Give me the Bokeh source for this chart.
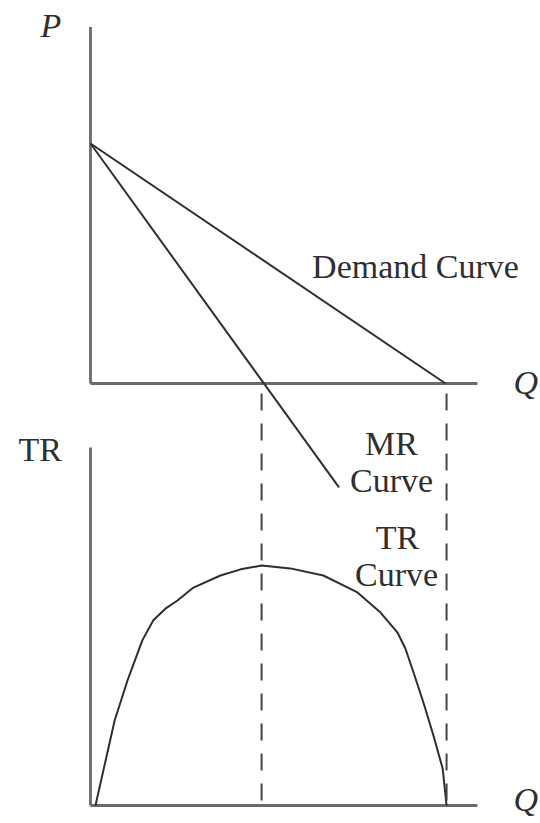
from bokeh.plotting import figure
from bokeh.models import Range1d, Label
from bokeh.embed import file_html
from bokeh.resources import INLINE

# ---------------- data ----------------
# Price panel (P against Q)
p_axis_max = 14.85
q_axis_max = 10.9
demand_q = [0.0, 10.0]
demand_p = [10.0, 0.0]
mr_q = [0.0, 7.0]
mr_p = [10.0, -4.33]

# Total revenue panel (TR against Q)
tr_axis_max = 37.3
tr_q = [0.14, 0.68, 1.04, 1.46, 1.77, 2.11, 2.45, 2.90, 3.66, 4.23, 4.82,
        5.63, 6.56, 7.52, 8.17, 8.65, 8.87, 9.10, 9.38, 9.66, 9.92, 10.03]
tr_v = [0.0, 8.85, 13.0, 17.2, 19.3, 20.5, 21.35, 22.7, 23.96, 24.6, 25.0,
        24.7, 23.96, 22.2, 20.1, 18.0, 16.35, 13.85, 10.7, 7.3, 3.85, 0.0]

# Quantities marked by the dashed guide lines
q_mr_zero = 4.82
q_demand_zero = 10.03

# ---------------- layout ----------------
W, H = 540, 821
q_zero_px, q_unit_px = 90, 35.5     # x position of Q=0, px per Q unit
p_zero_px, p_unit_px = 383, 24.0    # y (from top) of P=0, px per P unit
tr_zero_px, tr_unit_px = 805, 9.6   # y (from top) of TR=0, px per TR unit

x_range = Range1d(-q_zero_px / q_unit_px, (W - q_zero_px) / q_unit_px)
y_range = Range1d(-(H - p_zero_px) / p_unit_px, p_zero_px / p_unit_px)
tr_range = Range1d(-(H - tr_zero_px) / tr_unit_px, tr_zero_px / tr_unit_px)
tr_at_p_axis = (tr_zero_px - p_zero_px) / tr_unit_px

p = figure(width=W, height=H, x_range=x_range, y_range=y_range,
           output_backend="svg", toolbar_location=None, min_border=0,
           x_axis_location=None, y_axis_location=None,
           outline_line_color=None)
p.extra_y_ranges = {"tr": tr_range}
p.grid.visible = False
p.background_fill_color = "white"
p.border_fill_color = "white"

AXIS = "#6a6a6a"
CURVE = "#2e2e2e"

# axes of the price panel
p.line([0, 0], [0, p_axis_max], line_color=AXIS, line_width=2.8)
p.line([0, q_axis_max], [0, 0], line_color=AXIS, line_width=2.8)
# axes of the TR panel
p.line([0, 0], [0, tr_axis_max], line_color=AXIS, line_width=2.8, y_range_name="tr")
p.line([0, q_axis_max], [0, 0], line_color=AXIS, line_width=2.8, y_range_name="tr")

# demand and MR
p.line(demand_q, demand_p, line_color=CURVE, line_width=2.0)
p.line(mr_q, mr_p, line_color=CURVE, line_width=2.0)

# TR curve
p.line(tr_q, tr_v, line_color=CURVE, line_width=2.0, y_range_name="tr",
       line_join="round")

# dashed guides (drawn downwards from the price axis)
for qv in (q_mr_zero, q_demand_zero):
    p.line([qv, qv], [tr_at_p_axis, 0], line_color="#444444", line_width=2,
           line_dash="17 13", line_dash_offset=20, y_range_name="tr")

# ---------------- labels ----------------
FONT = "Liberation Serif"
FS = "34px"
TXT = "#2f2f2f"


def lab(text, x, y, align="left", italic=False):
    p.add_layout(Label(x=x, y=y, x_units="screen", y_units="screen", text=text,
                       text_font=FONT, text_font_size=FS, text_color=TXT,
                       text_align=align, text_baseline="alphabetic",
                       text_font_style="italic" if italic else "normal"))


lab("P", 40, 796, italic=True)
lab("Q", 513, 439, italic=True)
lab("Demand Curve", 415, 555, align="center")
lab("TR", 18, 372)
lab("MR", 391, 378, align="center")
lab("Curve", 391, 341, align="center")
lab("TR", 397, 284, align="center")
lab("Curve", 396, 247, align="center")
lab("Q", 513, 22, italic=True)

open("out.html", "w").write(file_html(p, INLINE))
